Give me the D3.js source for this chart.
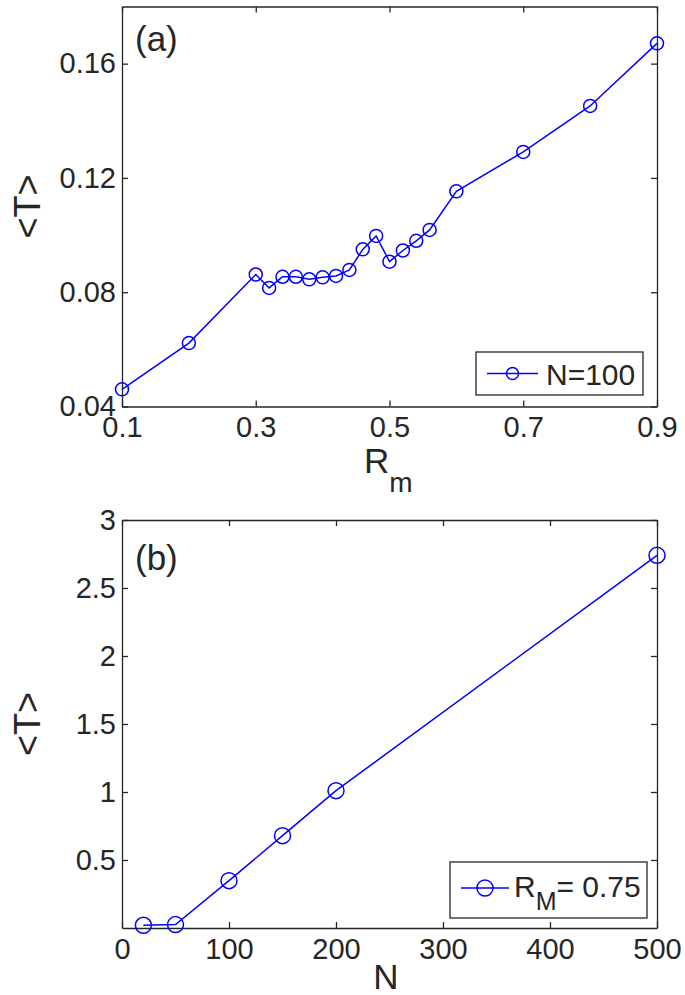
<!DOCTYPE html>
<html lang="en">
<head>
<meta charset="UTF-8">
<style>
    body{
        margin:0;
        background:#fff;
        font-family:"Liberation Sans", Arial, sans-serif;
    }
    .axis path, .axis line{ stroke:#262626; stroke-width:1.3px; }
    .axis text{ fill:#262626; font-size:29px; font-family:"Liberation Sans", Arial, sans-serif; }
    .label{ fill:#262626; font-family:"Liberation Sans", Arial, sans-serif; }
</style>
<script src="https://d3js.org/d3.v7.min.js"></script>
</head>
<body>
<svg id="chart" width="685" height="995"></svg>
<script>
// panel (a): <T> against R_m, N=100
var rmValues = [0.1, 0.2, 0.3, 0.32, 0.34, 0.36, 0.38, 0.40, 0.42, 0.44, 0.46, 0.48, 0.50, 0.52, 0.54, 0.56, 0.6, 0.7, 0.8, 0.9];
var tRm = [0.046, 0.0622, 0.0862, 0.0815, 0.0854, 0.0854, 0.0845, 0.0852, 0.0857, 0.0878, 0.0950, 0.0997, 0.0907, 0.0946, 0.0980, 0.1018, 0.1153, 0.1291, 0.1452, 0.1671];
var rmTicks = [0.1, 0.3, 0.5, 0.7, 0.9];
var tTicksA = [0.04, 0.08, 0.12, 0.16];

// panel (b): <T> against N, R_M = 0.75
var nValues = [20, 50, 100, 150, 200, 500];
var tN = [0.02, 0.025, 0.348, 0.679, 1.01, 2.74];
var nTicks = [0, 100, 200, 300, 400, 500];
var tTicksB = [0.5, 1, 1.5, 2, 2.5, 3];

var svg = d3.select("#chart");
var blue = "#0000ff";

function panel(opt) {
    var x = d3.scaleLinear().domain(opt.xDomain).range([opt.left, opt.right]);
    var y = d3.scaleLinear().domain(opt.yDomain).range([opt.bottom, opt.top]);
    var g = svg.append("g");

    // box with inward ticks on all sides
    g.append("g").attr("class", "axis")
        .attr("transform", "translate(0," + opt.bottom + ")")
        .call(d3.axisBottom(x).tickValues(opt.xTicks).tickSizeInner(-6).tickSizeOuter(0)
            .tickPadding(10).tickFormat(opt.xFormat));
    g.append("g").attr("class", "axis")
        .attr("transform", "translate(0," + opt.top + ")")
        .call(d3.axisTop(x).tickValues(opt.xTicks).tickSizeInner(-6).tickSizeOuter(0).tickFormat(""));
    g.append("g").attr("class", "axis")
        .attr("transform", "translate(" + opt.left + ",0)")
        .call(d3.axisLeft(y).tickValues(opt.yTicks).tickSizeInner(-6).tickSizeOuter(0)
            .tickPadding(6).tickFormat(opt.yFormat));
    g.append("g").attr("class", "axis")
        .attr("transform", "translate(" + opt.right + ",0)")
        .call(d3.axisRight(y).tickValues(opt.yTicks).tickSizeInner(-6).tickSizeOuter(0).tickFormat(""));

    var pts = opt.xs.map(function(d, i) { return [d, opt.ys[i]]; });
    g.append("path")
        .attr("d", d3.line().x(function(d) { return x(d[0]); }).y(function(d) { return y(d[1]); })(pts))
        .attr("fill", "none").attr("stroke", blue).attr("stroke-width", 1.5);
    g.selectAll("circle.pt").data(pts).enter().append("circle")
        .attr("class", "pt")
        .attr("cx", function(d) { return x(d[0]); })
        .attr("cy", function(d) { return y(d[1]); })
        .attr("r", opt.r)
        .attr("fill", "none").attr("stroke", blue).attr("stroke-width", 1.5);

    g.append("text").attr("class", "label")
        .attr("x", 135).attr("y", opt.top + opt.tagDy)
        .style("font-size", "35px").text(opt.tag);

    g.append("text").attr("class", "label")
        .attr("transform", "translate(40," + ((opt.top + opt.bottom) / 2) + ") rotate(-90)")
        .attr("text-anchor", "middle")
        .style("font-size", "36px").text("<T>");
    return g;
}

var ga = panel({
    xDomain: [0.1, 0.9], yDomain: [0.04, 0.18],
    left: 122, right: 657, top: 6.5, bottom: 406.5,
    xTicks: rmTicks, yTicks: tTicksA,
    xFormat: d3.format(".1f"), yFormat: d3.format(".2f"),
    xs: rmValues, ys: tRm, r: 6.5, tag: "(a)", tagDy: 44
});

var gb = panel({
    xDomain: [0, 500], yDomain: [0, 3],
    left: 122, right: 657, top: 520, bottom: 928,
    xTicks: nTicks, yTicks: tTicksB,
    xFormat: d3.format("d"), yFormat: function(d) { return String(d); },
    xs: nValues, ys: tN, r: 8, tag: "(b)", tagDy: 50
});

// x labels
var rl = svg.append("text").attr("class", "label").attr("x", 364).attr("y", 473).style("font-size", "35px");
rl.append("tspan").text("R");
rl.append("tspan").attr("dy", 19).style("font-size", "28px").text("m");

svg.append("text").attr("class", "label").attr("x", 386).attr("y", 989)
    .attr("text-anchor", "middle").style("font-size", "35px").text("N");

// legends
function legend(bx, by, bw, bh, ly, lx0, lx1, r) {
    var g = svg.append("g");
    g.append("rect").attr("x", bx).attr("y", by).attr("width", bw).attr("height", bh)
        .attr("fill", "#fff").attr("stroke", "#262626").attr("stroke-width", 1.3);
    g.append("line").attr("x1", lx0).attr("x2", lx1).attr("y1", ly).attr("y2", ly)
        .attr("stroke", blue).attr("stroke-width", 1.5);
    g.append("circle").attr("cx", (lx0 + lx1) / 2).attr("cy", ly).attr("r", r)
        .attr("fill", "none").attr("stroke", blue).attr("stroke-width", 1.5);
    return g;
}

var la = legend(476, 352, 167, 43, 373.5, 487, 538, 6);
la.append("text").attr("class", "label").attr("x", 546).attr("y", 385)
    .style("font-size", "30px").text("N=100");

var lb = legend(450, 862, 197, 56, 888, 461, 509, 8);
var lt = lb.append("text").attr("class", "label").attr("x", 514).attr("y", 897).style("font-size", "30px");
lt.append("tspan").text("R");
lt.append("tspan").attr("dy", 13).style("font-size", "25px").text("M");
lt.append("tspan").attr("dy", -13).text("= 0.75");
</script>
</body>
</html>
